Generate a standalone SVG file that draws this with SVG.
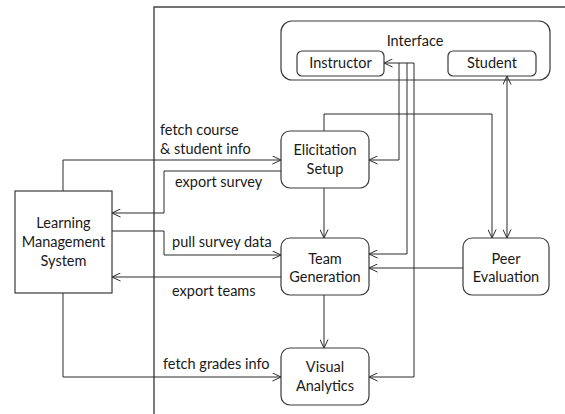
<svg xmlns="http://www.w3.org/2000/svg" width="565" height="414" viewBox="0 0 565 414">
  <style>
    .box { fill: #fff; stroke: #3a3a3a; stroke-width: 1.2; }
    .frame { fill: none; stroke: #444; stroke-width: 1.4; }
    .wire { fill: none; stroke: #2a2a2a; stroke-width: 1; }
    .arr { marker-end: url(#head); }
    text { font-family: Lato, "Open Sans", sans-serif; font-size: 14.5px; fill: #1a1a1a; }
    .c { text-anchor: middle; }
  </style>
  <defs>
    <marker id="head" viewBox="0 0 10 10" refX="9.5" refY="5" markerWidth="9" markerHeight="9" markerUnits="userSpaceOnUse" orient="auto-start-reverse">
      <path d="M0,0.5 L9.5,5 L0,9.5" fill="none" stroke="#2a2a2a" stroke-width="1.1"/>
    </marker>
  </defs>

  <rect width="565" height="414" fill="#fff"/>

  <!-- frame -->
  <path class="frame" d="M154,414 V7 H565"/>

  <!-- interface container sits under the wires that run through it -->
  <g id="interface">
    <rect class="box" x="281" y="21" width="269" height="59" rx="11"/>
    <text class="c" x="415" y="46">Interface</text>
  </g>

  <!-- connectors -->
  <g id="connectors">
    <path class="wire arr" d="M63,191 V160 H281"/>
    <path class="wire arr" d="M281,171 H164 V213 H112"/>
    <path class="wire arr" d="M112,231 H164 V255 H281"/>
    <path class="wire arr" d="M281,277 H112"/>
    <path class="wire arr" d="M63,293 V377 H281"/>
    <path class="wire arr" d="M324,188 V238"/>
    <path class="wire arr" d="M324,295 V348"/>
    <path class="wire arr" d="M463,268 H369"/>
    <path class="wire arr" d="M324,131 V114 H492 V238"/>
    <path class="wire arr" d="M507,238 V76" marker-start="url(#head)"/>
    <path class="wire arr" d="M414,63 H384"/>
    <path class="wire arr" d="M399,63 V160 H369"/>
    <path class="wire arr" d="M407,63 V254 H369"/>
    <path class="wire arr" d="M414,63 V377 H369"/>
  </g>

  <!-- connector labels -->
  <g id="labels">
    <text x="160" y="135">fetch course</text>
    <text x="160" y="154">&amp; student info</text>
    <text x="175" y="187">export survey</text>
    <text x="172" y="247">pull survey data</text>
    <text x="172" y="296">export teams</text>
    <text x="163" y="369">fetch grades info</text>
  </g>

  <g id="instructor">
    <rect class="box" x="297" y="51" width="87" height="25" rx="5"/>
    <text class="c" x="340.5" y="68">Instructor</text>
  </g>
  <g id="student">
    <rect class="box" x="448" y="51" width="88" height="25" rx="5"/>
    <text class="c" x="492" y="68">Student</text>
  </g>

  <g id="lms">
    <rect class="box" x="15" y="191" width="97" height="102"/>
    <text class="c" x="63.5" y="228">Learning</text>
    <text class="c" x="63.5" y="247">Management</text>
    <text class="c" x="63.5" y="266">System</text>
  </g>

  <g id="elicitation-setup">
    <rect class="box" x="281" y="131" width="88" height="57" rx="9"/>
    <text class="c" x="325" y="155">Elicitation</text>
    <text class="c" x="325" y="174">Setup</text>
  </g>

  <g id="team-generation">
    <rect class="box" x="281" y="238" width="88" height="57" rx="9"/>
    <text class="c" x="325" y="264">Team</text>
    <text class="c" x="325" y="282">Generation</text>
  </g>

  <g id="peer-evaluation">
    <rect class="box" x="463" y="238" width="86" height="57" rx="9"/>
    <text class="c" x="506" y="264">Peer</text>
    <text class="c" x="506" y="282">Evaluation</text>
  </g>

  <g id="visual-analytics">
    <rect class="box" x="281" y="348" width="88" height="57" rx="9"/>
    <text class="c" x="325" y="372">Visual</text>
    <text class="c" x="325" y="391">Analytics</text>
  </g>
</svg>
